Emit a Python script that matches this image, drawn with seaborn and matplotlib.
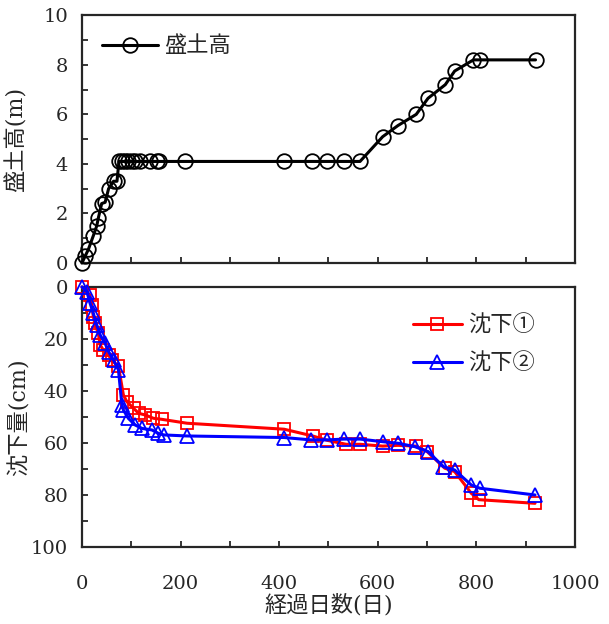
import seaborn as sns
import matplotlib.pyplot as plt
from matplotlib.ticker import MultipleLocator

# 盛土高
days_h = [0, 7, 13, 23, 30, 33, 40, 47, 54, 64, 71, 75, 81, 88, 94, 101, 108, 118,
          138, 152, 156, 210, 410, 466, 498, 532, 564, 610, 641, 678, 702, 737, 756,
          794, 807, 920]
height = [0, 0.3, 0.55, 1.1, 1.5, 1.8, 2.4, 2.45, 3.0, 3.3, 3.3, 4.1, 4.1, 4.1, 4.1,
          4.1, 4.1, 4.1, 4.1, 4.1, 4.1, 4.1, 4.1, 4.1, 4.1, 4.1, 4.1, 5.1, 5.55, 6.0,
          6.65, 7.2, 7.75, 8.2, 8.2, 8.2]

# 沈下①
days_1 = [0, 16, 20, 23, 26, 33, 37, 43, 54, 60, 74, 84, 91, 105, 115, 128, 145, 162,
          213, 410, 468, 498, 536, 564, 610, 641, 678, 700, 736, 756, 790, 805, 919]
settle_1 = [0, 3.1, 6.9, 11.4, 14.0, 17.8, 22.3, 24.2, 26.2, 28.1, 30.5, 41.5, 44.1,
            46.7, 48.6, 49.2, 50.5, 50.9, 52.4, 54.7, 57.3, 59.0, 60.5, 60.5, 61.2,
            60.9, 61.2, 63.3, 69.7, 71.0, 79.4, 81.8, 83.2]

# 沈下②
days_2 = [0, 10, 16, 23, 30, 37, 47, 54, 64, 74, 81, 84, 94, 108, 122, 142, 155, 166,
          213, 410, 464, 498, 532, 564, 610, 641, 675, 702, 733, 756, 790, 807, 919]
settle_2 = [0, 1.8, 6.0, 10.1, 14.6, 18.5, 21.7, 24.9, 28.1, 31.9, 45.4, 47.3, 50.5,
            53.1, 54.4, 55.0, 56.3, 56.9, 57.3, 57.9, 58.8, 58.8, 58.5, 58.5, 59.5,
            60.1, 61.4, 63.3, 69.1, 70.4, 76.2, 77.4, 80.0]

sns.set_style("ticks")
plt.rcParams['font.family'] = ['DejaVu Serif', 'Noto Sans CJK JP']
plt.rcParams['font.size'] = 14
plt.rcParams['axes.linewidth'] = 1.6

fig = plt.figure(figsize=(6.09, 6.24), dpi=100)
ax1 = fig.add_axes([0.1346, 0.5785, 0.8095, 0.397])
ax2 = fig.add_axes([0.1346, 0.1234, 0.8095, 0.4167])

sns.lineplot(x=days_h, y=height, ax=ax1, color='black', lw=2.2, marker='o',
             markersize=10.5, mfc='none', mec='black', mew=1.3, estimator=None,
             sort=False, label='盛土高', clip_on=False, zorder=5)
sns.lineplot(x=days_1, y=settle_1, ax=ax2, color='red', lw=2.2, marker='s',
             markersize=9, mfc='none', mec='red', mew=1.3, estimator=None,
             sort=False, label='沈下①', clip_on=False, zorder=5)
sns.lineplot(x=days_2, y=settle_2, ax=ax2, color='blue', lw=2.2, marker='^',
             markersize=9.5, mfc='none', mec='blue', mew=1.3, estimator=None,
             sort=False, label='沈下②', clip_on=False, zorder=6)

ax1.set_xlim(0, 1000)
ax1.set_ylim(0, 10)
ax1.set_xticklabels([])
ax1.set_ylabel('盛土高(m)', fontsize=16)
ax1.yaxis.set_label_coords(-0.11, 0.5)
ax1.yaxis.set_major_locator(MultipleLocator(2))
ax1.yaxis.set_minor_locator(MultipleLocator(1))

ax2.set_xlim(0, 1000)
ax2.set_ylim(100, 0)
ax2.set_xlabel('経過日数(日)', fontsize=16, labelpad=1)
ax2.set_ylabel('沈下量(cm)', fontsize=16)
ax2.yaxis.set_label_coords(-0.105, 0.5)
ax2.yaxis.set_major_locator(MultipleLocator(20))
ax2.yaxis.set_minor_locator(MultipleLocator(10))

for ax in (ax1, ax2):
    ax.xaxis.set_major_locator(MultipleLocator(200))
    ax.xaxis.set_minor_locator(MultipleLocator(100))
    ax.tick_params(which='both', direction='in', length=4, width=1.3, labelsize=14)
    ax.tick_params(axis='y', which='both', left=True, right=False, pad=10)
    ax.tick_params(axis='x', which='both', bottom=True, top=False, pad=20)
    for s in ax.spines.values():
        s.set_visible(True)
        s.set_linewidth(1.6)

ax1.legend(loc='upper left', frameon=False, handlelength=2.5, borderaxespad=0.5,
           fontsize=16, handletextpad=0.3)
ax2.legend(loc='upper right', frameon=False, handlelength=2.2,
           bbox_to_anchor=(0.96, 0.97), labelspacing=0.7, fontsize=16,
           handletextpad=0.3)

fig.savefig('out.png', dpi=100)
